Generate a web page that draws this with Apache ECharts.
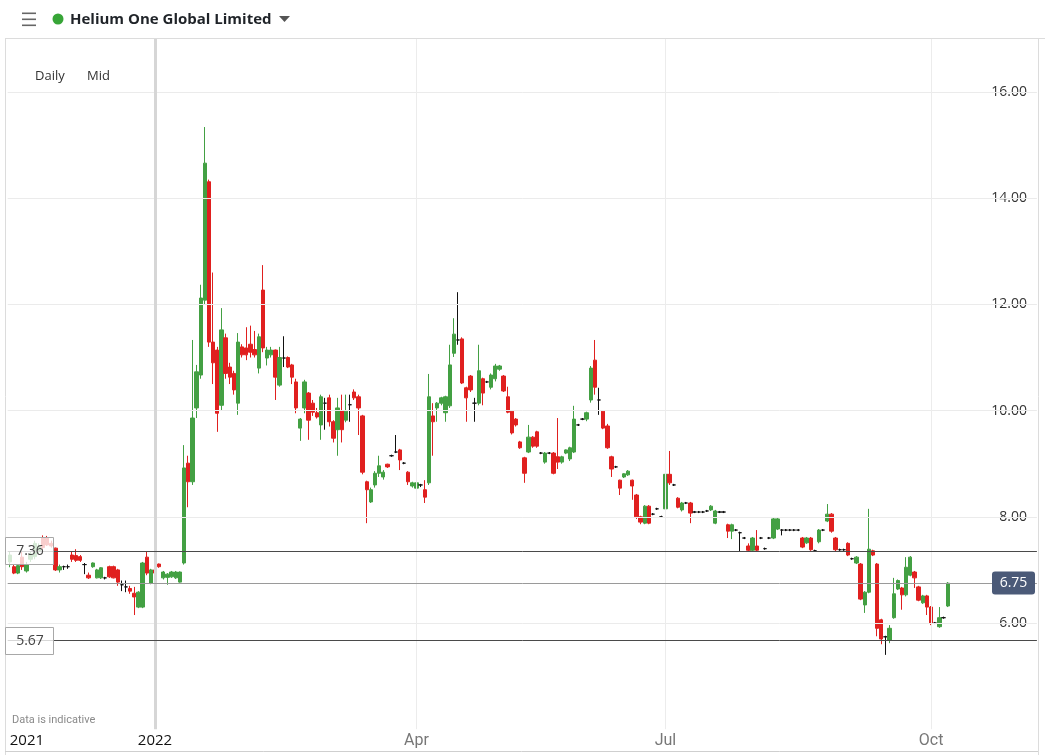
<!DOCTYPE html>
<html><head><meta charset="utf-8">
<script src="https://cdn.jsdelivr.net/npm/echarts@6/dist/echarts.min.js"></script>
<style>html,body{margin:0;padding:0;background:#fff}#c{width:1045px;height:755px}</style>
</head><body><div id="c"></div><script>
// OHLC rows: [open, close, low, high]
const nov21 = [[7.15,7.28,7.05,7.35],[7.06,6.94,6.92,7.10],[6.94,7.08,6.92,7.10],[7.24,7.06,7.00,7.35],[6.98,7.10,6.95,7.15],[7.20,7.30,7.15,7.35],[7.25,7.50,7.20,7.55],[7.35,7.45,7.30,7.50],[7.60,7.42,7.38,7.65],[7.60,7.47,7.45,7.64],[7.50,7.45,7.42,7.55],[7.41,7.00,6.98,7.42],[7.00,7.06,6.95,7.10],[7.06,7.06,7.00,7.08]];
const dec21 = [[7.06,7.06,7.02,7.10],[7.28,7.20,7.15,7.35],[7.27,7.18,7.15,7.39],[7.25,7.18,7.15,7.28],[7.10,7.10,6.92,7.13],[6.90,6.85,6.83,6.95],[7.06,7.13,7.04,7.14],[6.85,7.00,6.84,7.02],[6.85,7.04,6.83,7.05],[6.85,6.85,6.82,6.87],[7.06,6.87,6.85,7.08],[7.06,6.85,6.84,7.08],[7.00,6.77,6.70,7.02],[6.72,6.72,6.60,6.80],[6.68,6.68,6.58,6.80],[6.65,6.60,6.55,6.70],[6.56,6.49,6.15,6.68],[6.30,6.58,6.28,6.60],[6.30,7.13,6.28,7.15],[7.24,6.94,6.90,7.34],[6.75,7.00,6.73,7.02]];
const jan22 = [[7.00,6.94,6.85,7.02],[7.11,7.06,7.04,7.12],[6.85,6.96,6.82,6.98],[6.86,6.92,6.72,6.94],[6.87,6.96,6.85,6.98],[6.85,6.96,6.83,6.98],[6.77,6.96,6.76,6.97],[7.13,8.92,7.10,9.35],[9.01,8.66,8.18,9.15],[8.66,9.86,8.60,11.33],[10.05,10.73,9.86,10.86],[10.67,12.12,10.60,12.37],[12.08,14.66,12.00,15.34],[14.31,11.29,11.20,14.35],[11.29,10.90,10.50,12.60],[11.14,9.95,9.60,11.20],[10.10,11.52,10.00,11.93],[11.37,10.70,10.60,11.45],[10.82,10.63,10.50,10.90],[10.70,10.39,10.30,10.75]];
const feb22 = [[10.14,11.29,9.92,11.46],[11.20,11.05,11.00,11.25],[11.18,11.05,10.95,11.57],[11.25,11.10,11.00,11.60],[11.15,11.05,11.00,11.50],[10.80,11.39,10.70,11.45],[12.27,11.18,11.10,12.74],[10.99,11.14,10.85,11.20],[11.05,11.14,11.00,11.20],[11.14,10.63,10.20,11.15],[10.48,11.00,10.45,11.20],[10.99,10.99,10.82,11.40],[11.00,10.82,10.80,11.02],[10.86,10.63,10.50,10.88],[10.54,10.05,9.95,10.60],[9.67,9.84,9.43,9.86],[10.05,10.54,9.95,10.58],[10.33,9.82,9.45,10.35],[10.14,9.97,9.90,10.20],[9.96,9.88,9.85,10.05]];
const mar22 = [[9.73,10.26,9.45,10.30],[10.14,10.14,9.64,10.24],[10.24,9.79,9.70,10.30],[9.79,9.48,9.40,9.82],[9.64,10.05,9.15,10.24],[10.00,9.64,9.40,10.30],[9.82,9.99,9.78,10.30],[10.11,10.11,9.79,10.30],[10.35,10.24,10.20,10.40],[10.26,10.05,9.54,10.30],[9.90,8.84,8.80,9.92],[8.66,8.51,7.88,8.68],[8.28,8.51,8.26,8.55],[8.60,8.82,8.55,8.86],[8.82,8.96,8.75,9.15],[8.75,8.84,8.70,8.88],[8.99,8.94,8.92,9.00],[9.15,9.15,9.13,9.17],[9.22,9.22,9.20,9.54],[9.26,9.07,8.88,9.28],[9.01,9.01,8.99,9.03],[8.84,8.66,8.60,8.86],[8.58,8.64,8.55,8.66]];
const apr22 = [[8.54,8.64,8.52,8.66],[8.60,8.60,8.56,8.62],[8.51,8.37,8.26,8.69],[8.64,10.26,8.60,10.69],[9.90,9.79,9.15,10.14],[10.05,10.14,9.79,10.16],[10.14,10.24,10.10,10.26],[9.96,10.26,9.79,10.28],[10.09,10.86,10.05,11.24],[11.08,11.44,11.01,11.74],[11.33,11.33,11.24,12.23],[11.35,10.52,10.50,11.38],[10.43,10.24,9.79,10.45],[10.65,10.39,10.35,10.67],[10.14,10.14,9.79,10.24],[10.14,10.75,10.10,11.24],[10.60,10.33,10.10,10.62],[10.54,10.54,10.52,10.56],[10.44,10.67,10.40,10.70]];
const may22 = [[10.60,10.84,10.55,10.88],[10.78,10.84,10.75,10.86],[10.65,10.37,10.35,10.67],[10.26,9.97,9.95,10.45],[9.99,9.58,9.55,10.00],[9.84,9.73,9.70,9.86],[9.41,9.30,9.28,9.43],[9.11,8.82,8.64,9.13],[9.22,9.50,9.20,9.73],[9.50,9.33,9.30,9.52],[9.60,9.33,9.30,9.62],[9.20,9.20,9.18,9.22],[9.03,9.20,9.00,9.22],[9.20,9.20,9.18,9.22],[9.20,8.82,8.80,9.22],[9.13,9.03,8.90,9.86],[9.03,9.13,9.00,9.15],[9.20,9.26,9.18,9.27],[9.09,9.30,9.05,9.32],[9.22,9.84,9.20,10.09],[9.73,9.73,9.71,9.75]];
const jun22 = [[9.84,9.84,9.82,9.86],[9.84,9.96,9.80,9.98],[10.20,10.80,10.15,10.84],[10.95,10.44,10.30,11.33],[10.20,10.20,9.92,10.43],[9.99,9.67,9.65,10.00],[9.71,9.30,9.28,9.75],[9.13,8.90,8.75,9.15],[8.94,8.94,8.92,8.96],[8.69,8.54,8.41,8.70],[8.75,8.81,8.73,8.82],[8.79,8.86,8.77,8.88],[8.69,8.58,8.32,8.70],[8.41,8.00,7.96,8.43],[8.00,7.90,7.86,8.02],[7.88,8.20,7.86,8.22],[8.20,7.88,7.86,8.22],[8.05,8.05,8.03,8.07],[8.15,8.15,8.13,8.17],[8.00,8.00,7.98,8.02]];
const jul22 = [[8.15,8.80,8.10,9.30],[8.80,8.64,8.60,9.24],[8.60,8.60,8.58,8.62],[8.35,8.18,8.16,8.37],[8.13,8.26,8.10,8.28],[8.26,8.26,8.24,8.28],[8.26,8.07,7.88,8.28],[8.09,8.09,8.07,8.11],[8.09,8.09,8.07,8.11],[8.09,8.09,8.07,8.11],[8.11,8.11,8.09,8.13],[8.13,8.20,8.11,8.22],[7.88,8.11,7.86,8.13],[8.09,8.09,8.07,8.11],[8.09,8.09,8.07,8.11],[7.85,7.73,7.60,7.87],[7.73,7.85,7.58,7.87],[7.75,7.75,7.73,7.77],[7.70,7.70,7.34,7.72],[7.60,7.60,7.58,7.62],[7.45,7.37,7.35,7.50]];
const aug22 = [[7.37,7.60,7.35,7.62],[7.45,7.37,7.35,7.75],[7.60,7.60,7.58,7.62],[7.40,7.40,7.38,7.42],[7.60,7.60,7.58,7.62],[7.60,7.96,7.58,7.98],[7.77,7.96,7.75,7.98],[7.75,7.75,7.65,7.77],[7.75,7.75,7.73,7.77],[7.75,7.75,7.73,7.77],[7.75,7.75,7.73,7.77],[7.75,7.75,7.73,7.77],[7.60,7.43,7.41,7.62],[7.51,7.60,7.49,7.62],[7.60,7.38,7.36,7.62],[7.36,7.36,7.34,7.38],[7.53,7.75,7.50,7.77],[7.75,7.75,7.73,7.77],[7.92,8.05,7.90,8.24],[8.05,7.73,7.70,8.07],[7.60,7.38,7.34,7.62],[7.38,7.38,7.36,7.40]];
const sep22 = [[7.38,7.38,7.36,7.40],[7.50,7.28,7.26,7.52],[7.21,7.21,7.19,7.23],[7.13,7.24,7.11,7.26],[7.11,6.45,6.43,7.13],[6.34,6.58,6.19,6.60],[6.58,7.39,6.56,8.15],[7.36,7.28,7.26,7.38],[7.11,5.90,5.75,7.13],[6.06,5.70,5.60,6.08],[5.74,5.74,5.40,5.76],[5.68,5.90,5.62,5.96],[6.10,6.55,6.08,6.85],[6.64,6.80,6.62,6.82],[6.66,6.53,6.25,6.68],[6.53,7.05,6.50,7.24],[6.90,7.24,6.88,7.26],[6.96,6.85,6.66,6.98],[6.68,6.43,6.41,6.70],[6.38,6.51,6.36,6.53],[6.51,6.30,6.15,6.53]];
const oct22 = [[6.30,6.00,5.96,6.32],[6.00,6.00,5.98,6.02],[5.93,6.10,5.91,6.30],[6.10,6.10,6.08,6.12],[6.32,6.75,6.30,6.77]];

const yTickValues = [6, 8, 10, 12, 14, 16];
const levelLines = [7.36, 5.67];
const lastPrice = 6.75;
const startDate = '2021-11-11';
const totalSlots = 248;
const holidays = ['2021-12-27','2021-12-28','2022-01-03','2022-04-15','2022-04-18','2022-05-02','2022-06-02','2022-06-03','2022-08-29','2022-09-19'];
const monthNames = ['Jan','Feb','Mar','Apr','May','Jun','Jul','Aug','Sep','Oct','Nov','Dec'];

function tradingDays(start, n, hol) {
  const out = [];
  const d = new Date(start + 'T00:00:00Z');
  while (out.length < n) {
    const wd = d.getUTCDay();
    const s = d.toISOString().slice(0, 10);
    if (wd !== 0 && wd !== 6 && hol.indexOf(s) < 0) out.push(s);
    d.setUTCDate(d.getUTCDate() + 1);
  }
  return out;
}
const dates = tradingDays(startDate, totalSlots, holidays);
const ohlc = [].concat(nov21, dec21, jan22, feb22, mar22, apr22, may22, jun22, jul22, aug22, sep22, oct22);

const UP = '#43a043', DOWN = '#e0201f', FLAT = '#111111';
const seriesData = ohlc.map(r => r[0] === r[1]
  ? { value: r, itemStyle: { color: FLAT, color0: FLAT, borderColor: FLAT, borderColor0: FLAT } }
  : r);

const labelIdx = {};
labelIdx[0] = '{y|' + dates[0].slice(0, 4) + '}';
const quarterIdx = [];
for (let i = 1; i < dates.length; i++) {
  const m = +dates[i].slice(5, 7) - 1, pm = +dates[i - 1].slice(5, 7) - 1;
  if (m !== pm && m % 3 === 0) {
    labelIdx[i] = m === 0 ? '{y|' + dates[i].slice(0, 4) + '}' : '{m|' + monthNames[m] + '}';
    quarterIdx.push(i);
  }
}

const gridLines = yTickValues.map(v => ({ yAxis: v, lineStyle: { color: '#ebebeb', width: 1, type: 'solid' } }));
const vLines = quarterIdx.map(i => ({ xAxis: dates[i], lineStyle: dates[i].slice(5, 7) === '01' ? { color: '#d6d6d6', width: 3, type: 'solid' } : { color: '#ececec', width: 1, type: 'solid' } }));
const lvl = levelLines.map(v => ({ yAxis: v, lineStyle: { color: '#4a4a4a', width: 1, type: 'solid' } }));
lvl.push({ yAxis: lastPrice, lineStyle: { color: '#9a9a9a', width: 1, type: 'solid' } });

const chart = echarts.init(document.getElementById('c'), null, { renderer: 'canvas' });
const option = {
  animation: false,
  backgroundColor: '#fff',
  grid: { left: 7.7, right: 8.1, top: 38.9, bottom: 25.8, containLabel: false, outerBoundsMode: 'none' },
  xAxis: {
    type: 'category', data: dates, boundaryGap: true,
    axisLine: { show: false }, axisTick: { show: false }, splitLine: { show: false },
    axisLabel: {
      interval: (i) => labelIdx[i] !== undefined,
      formatter: (v, i) => labelIdx[i] || '',
      margin: 4, alignMinLabel: 'left',
      rich: {
        y: { fontFamily: 'Open Sans', fontSize: 15, color: '#111' },
        m: { fontFamily: "'Liberation Sans Narrow', 'Roboto'", fontSize: 16, color: '#777' }
      }
    }
  },
  yAxis: {
    type: 'value', position: 'right', min: 4, max: 17, interval: 2, scale: true,
    axisLine: { show: false }, axisTick: { show: false }, splitLine: { show: false },
    axisLabel: {
      inside: true, margin: 10, fontFamily: 'Open Sans', fontSize: 14, color: '#333',
      formatter: v => (yTickValues.indexOf(v) >= 0 ? v.toFixed(2) : '')
    }
  },
  series: [
    {
      type: 'line', data: [], z: 1, silent: true,
      markLine: { silent: true, symbol: 'none', label: { show: false }, animation: false, data: gridLines.concat(vLines).concat(lvl) }
    },
    {
      type: 'candlestick', data: seriesData, z: 3, barWidth: 3.8,
      itemStyle: { color: UP, color0: DOWN, borderColor: UP, borderColor0: DOWN, borderWidth: 1 }
    }
  ]
};
chart.setOption(option);

const boxes = [];
levelLines.forEach(v => {
  const y = chart.convertToPixel({ yAxisIndex: 0 }, v);
  boxes.push({ type: 'rect', shape: { x: 5.5, y: Math.round(y) - 13.5, width: 48, height: 27 }, style: { fill: 'rgba(255,255,255,0.78)', stroke: '#a8a8a8', lineWidth: 1 }, z: 50 });
  boxes.push({ type: 'text', x: 30, y: Math.round(y), style: { text: v.toFixed(2), fill: '#444', font: '14px "Open Sans"', align: 'center', verticalAlign: 'middle' }, z: 51 });
});
const yl = chart.convertToPixel({ yAxisIndex: 0 }, lastPrice);
boxes.push({ type: 'rect', shape: { x: 992, y: Math.round(yl) - 11.5, width: 43, height: 23, r: 3 }, style: { fill: '#4b5a78' }, z: 50 });
boxes.push({ type: 'text', x: 1013.5, y: Math.round(yl), style: { text: lastPrice.toFixed(2), fill: '#fff', font: '14px "Open Sans"', align: 'center', verticalAlign: 'middle' }, z: 51 });

const decor = [
  { type: 'rect', shape: { x: 22, y: 12.5, width: 14, height: 1.6 }, style: { fill: '#666' } },
  { type: 'rect', shape: { x: 22, y: 18.5, width: 14, height: 1.6 }, style: { fill: '#666' } },
  { type: 'rect', shape: { x: 22, y: 24.5, width: 14, height: 1.6 }, style: { fill: '#666' } },
  { type: 'circle', shape: { cx: 58, cy: 19, r: 5.5 }, style: { fill: '#37a537' } },
  { type: 'text', x: 70, y: 19.5, style: { text: 'Helium One Global Limited', fill: '#1f2328', font: '700 15px "Open Sans"', verticalAlign: 'middle' } },
  { type: 'polygon', shape: { points: [[279, 16], [290, 16], [284.5, 22]] }, style: { fill: '#555' } },
  { type: 'line', shape: { x1: 5, y1: 38.5, x2: 1045, y2: 38.5 }, style: { stroke: '#dcdcdc', lineWidth: 1 } },
  { type: 'line', shape: { x1: 5.5, y1: 38, x2: 5.5, y2: 755 }, style: { stroke: '#dcdcdc', lineWidth: 1 } },
  { type: 'line', shape: { x1: 1038.5, y1: 38, x2: 1038.5, y2: 755 }, style: { stroke: '#dcdcdc', lineWidth: 1 } },
  { type: 'line', shape: { x1: 5, y1: 751.5, x2: 1038, y2: 751.5 }, style: { stroke: '#cfcfcf', lineWidth: 1 } },
  { type: 'text', x: 35, y: 76, style: { text: 'Daily', fill: '#333', font: '13px "Open Sans"', verticalAlign: 'middle' } },
  { type: 'text', x: 87, y: 76, style: { text: 'Mid', fill: '#333', font: '13px "Open Sans"', verticalAlign: 'middle' } },
  { type: 'text', x: 12, y: 720, style: { text: 'Data is indicative', fill: '#8a8a8a', font: '11px "Liberation Sans Narrow", Roboto', verticalAlign: 'middle' } }
];
chart.setOption({ graphic: { elements: decor.concat(boxes) } });
</script></body></html>
